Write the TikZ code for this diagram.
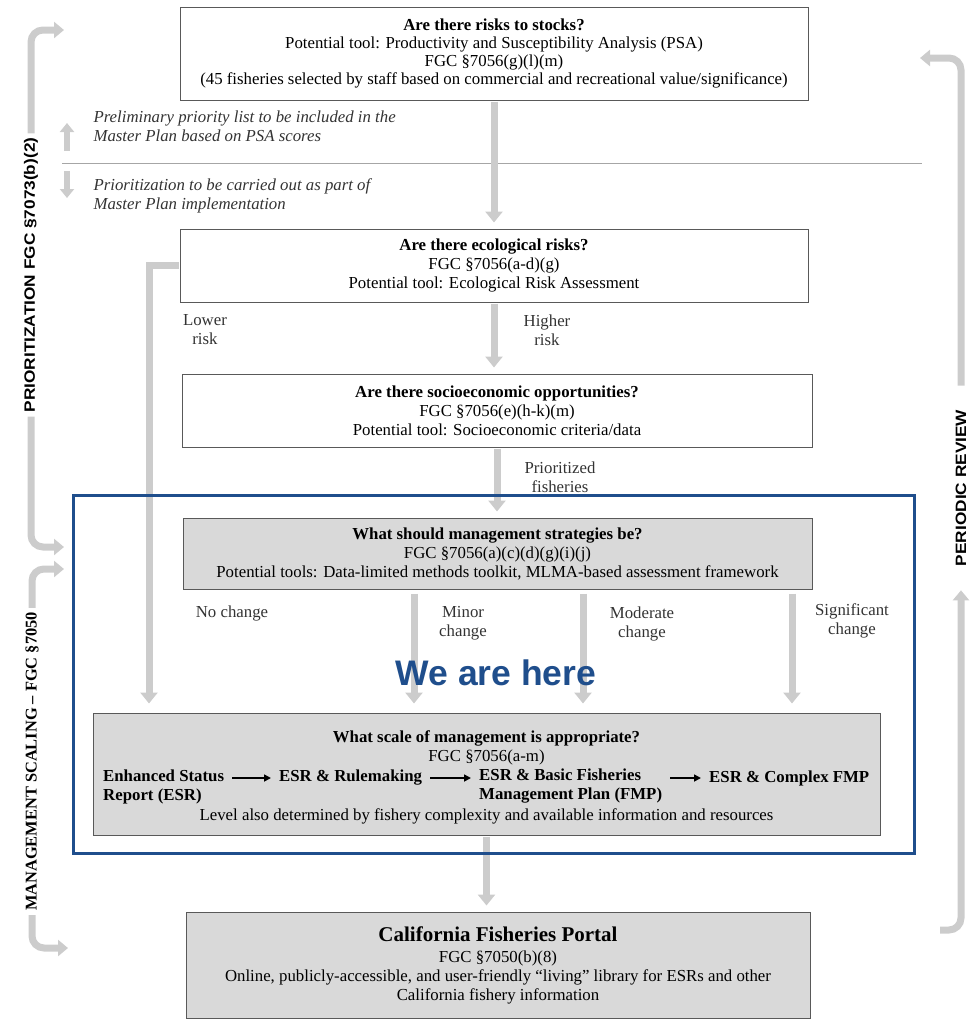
\documentclass[tikz,border=0pt]{standalone}
\usepackage{fontspec}
\setmainfont{Liberation Serif}
\newfontfamily\sidesans{Liberation Sans}[FakeStretch=1.15]
\newfontfamily\heresans{Liberation Sans}
\usetikzlibrary{arrows.meta}
\definecolor{hereblue}{RGB}{31,78,140}
\newcommand{\txt}{\fontsize{16.8pt}{19pt}\selectfont}

\begin{document}
\begin{tikzpicture}[x=1pt,y=-1pt,
	box/.style={draw=black!65,line width=1pt,fill=white,inner sep=0pt,align=center,font=\txt},
	greybox/.style={box,fill=gray!30},
	flow/.style={draw=gray!40,line width=7pt,-{Triangle[width=17pt,length=11pt]},shorten >=6pt,shorten <=1pt},
	branch/.style={flow,shorten >=9pt,shorten <=4pt},
	smallarr/.style={draw=gray!40,line width=6pt,-{Triangle[width=14pt,length=9pt]}},
	sidearr/.style={draw=gray!40,line width=7pt,rounded corners=12pt,-{Triangle[width=16pt,length=10pt]}},
	stepline/.style={line width=1.6pt,-{Triangle[width=7pt,length=7pt]},shorten <=8pt,shorten >=8pt},
	lbl/.style={font=\txt,align=center,text=black!80},
	note/.style={font=\txt\itshape,align=left,anchor=west,text=black!80},
	itemtxt/.style={font=\txt\bfseries,align=left,anchor=west,inner sep=0pt},
	sidelbl/.style={rotate=90,inner xsep=4pt,inner ysep=2pt}]
	\useasboundingbox (0,0) rectangle (975,1021);
	% boxes
	\node[box,minimum width=628pt,minimum height=93pt] (stocks) at (494,53.5) {\textbf{Are there risks to stocks?}\\[-1pt]Potential tool: Productivity and Susceptibility Analysis (PSA)\\[-1pt]FGC §7056(g)(l)(m)\\[-1pt](45 fisheries selected by staff based on commercial and recreational value/significance)};
	\node[box,minimum width=628pt,minimum height=73pt] (eco) at (494,265.5) {\textbf{Are there ecological risks?}\\FGC §7056(a-d)(g)\\Potential tool: Ecological Risk Assessment};
	\node[box,minimum width=630pt,minimum height=73pt] (socio) at (497,410.5) {\textbf{Are there socioeconomic opportunities?}\\FGC §7056(e)(h-k)(m)\\Potential tool: Socioeconomic criteria/data};
	\node[greybox,minimum width=629pt,minimum height=71pt] (strat) at (497.5,553.5) {\textbf{What should management strategies be?}\\FGC §7056(a)(c)(d)(g)(i)(j)\\Potential tools: Data-limited methods toolkit, MLMA-based assessment framework};
	\node[greybox,minimum width=787pt,minimum height=122pt] (scale) at (486.5,774) {};
	\node[greybox,minimum width=624pt,minimum height=106pt] (portal) at (498,965) {{\fontsize{21pt}{24pt}\selectfont\bfseries California Fisheries Portal}\\[2pt]FGC §7050(b)(8)\\Online, publicly-accessible, and user-friendly “living” library for ESRs and other\\California fishery information};
	% inside the scale box
	\node[font=\txt\bfseries,inner sep=0pt] (scaletitle) at (486.5,738) {What scale of management is appropriate?};
	\node[font=\txt,inner sep=0pt] (scalefgc) at (486.5,757) {FGC §7056(a-m)};
	\node[itemtxt] (esr) at (103,786.5) {Enhanced Status\\Report (ESR)};
	\node[itemtxt] (rule) at (279,778) {ESR \& Rulemaking};
	\node[itemtxt] (basic) at (479,786.5) {ESR \& Basic Fisheries\\Management Plan (FMP)};
	\node[itemtxt] (complex) at (709,778) {ESR \& Complex FMP};
	\node[font=\txt,inner sep=0pt] (level) at (486.5,816) {Level also determined by fishery complexity and available information and resources};
	\draw[stepline] (esr.east |- rule.west) -- (rule.west);
	\draw[stepline] (rule.east) -- (basic.west |- rule.east);
	\draw[stepline] (basic.east |- complex.west) -- (complex.west);
	% divider and notes
	\draw[line width=1pt,gray!70] (62,163) -- (922,163);
	\node[note] (prelim) at (90,126.5) {Preliminary priority list to be included in the\\Master Plan based on PSA scores};
	\node[note] (later) at (90,196) {Prioritization to be carried out as part of\\Master Plan implementation};
	\coordinate (upbot) at (67,151);
	\coordinate (uptop) at (67,123);
	\coordinate (dntop) at (67,171);
	\coordinate (dnbot) at (67,198);
	\draw[smallarr] (upbot) -- (uptop);
	\draw[smallarr] (dntop) -- (dnbot);
	% main flow
	\draw[flow] (stocks.south) -- (stocks.south |- eco.north);
	\draw[flow] (eco.south) -- (eco.south |- socio.north);
	\draw[flow] (socio.south) -- (socio.south |- strat.north);
	\draw[flow] (scale.south) -- (scale.south |- portal.north);
	\coordinate (lowx) at (149,0);
	\draw[flow,shorten >=9pt] (eco.west) -| (lowx |- scale.north);
	\draw[branch] ([xshift=-83.5pt]strat.south) -- ([xshift=-83.5pt]strat.south |- scale.north);
	\draw[branch] ([xshift=85.5pt]strat.south) -- ([xshift=85.5pt]strat.south |- scale.north);
	\draw[branch] ([xshift=294.5pt]strat.south) -- ([xshift=294.5pt]strat.south |- scale.north);
	% labels
	\node[lbl] (lower) at (205,330) {Lower\\risk};
	\node[lbl] (higher) at (547,330) {Higher\\risk};
	\node[lbl] (prio) at (560,477) {Prioritized\\fisheries};
	\node[lbl] (nochg) at (232,613) {No change};
	\node[lbl] (minor) at (463,623) {Minor\\change};
	\node[lbl] (moderate) at (642,624) {Moderate\\change};
	\node[lbl] (signif) at (852,621) {Significant\\change};
	% side loops
	\node[sidelbl,font=\sidesans\fontsize{15pt}{17pt}\selectfont\bfseries] (pri) at (31,275) {PRIORITIZATION FGC §7073(b)(2)};
	\node[sidelbl,font=\fontsize{16.4pt}{18pt}\selectfont\bfseries] (mgmt) at (32,761.5) {MANAGEMENT SCALING – FGC §7050};
	\node[sidelbl,inner xsep=24pt,font=\sidesans\fontsize{15pt}{17pt}\selectfont\bfseries] (rev) at (961,488) {PERIODIC REVIEW};
	\coordinate (ptop) at (64,30);
	\coordinate (pbot) at (64,547);
	\coordinate (mtop) at (64,569);
	\coordinate (mbot) at (68,948);
	\coordinate (rtop) at (920,58);
	\coordinate (rbot) at (940,930);
	\draw[sidearr] (pri.east) |- (ptop);
	\draw[sidearr] (pri.west) |- (pbot);
	\draw[sidearr] (mgmt.east) |- (mtop);
	\draw[sidearr] (mgmt.west) |- (mbot);
	\draw[sidearr] (rev.east) |- (rtop);
	\draw[sidearr] (rbot) -| (rev.west);
	% we are here
	\draw[hereblue,line width=3pt] (73,495) rectangle (914,853);
	\node[font=\heresans\fontsize{35.5pt}{38pt}\selectfont\bfseries,text=hereblue] (here) at (496,673) {We are here};
\end{tikzpicture}
\end{document}
